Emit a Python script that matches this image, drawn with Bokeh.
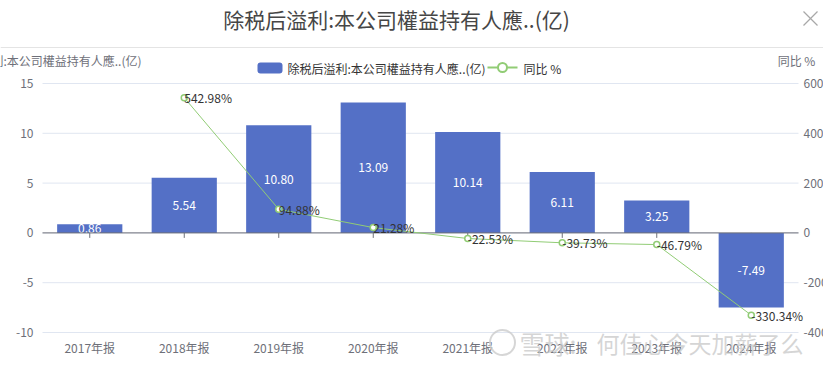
from bokeh.plotting import figure
from bokeh.models import ColumnDataSource, Range1d
from bokeh.core.properties import value
from bokeh.embed import file_html
from bokeh.resources import INLINE

# ---- data ----
categories = ["2017年报", "2018年报", "2019年报", "2020年报", "2021年报", "2022年报", "2023年报", "2024年报"]
profit = [0.86, 5.54, 10.80, 13.09, 10.14, 6.11, 3.25, -7.49]
yoy_cats = ["2018年报", "2019年报", "2020年报", "2021年报", "2022年报", "2023年报", "2024年报"]
yoy = [542.98, 94.88, 21.28, -22.53, -39.73, -46.79, -330.34]
left_ticks = [-10, -5, 0, 5, 10, 15]
right_ticks = [-400, -200, 0, 200, 400, 600]
title_text = "除税后溢利:本公司權益持有人應..(亿)"
series1_name = "除税后溢利:本公司權益持有人應..(亿)"
series2_name = "同比 %"
watermark1 = "雪球:"
watermark2 = "何佳心今天加薪了么"

FONT = value("Noto Sans CJK SC")
BAR = "#5470C6"
LINE = "#91CC75"
AXIS_TXT = "#6E7079"
GRID = "#E0E6F1"

# ---- layout (pixels) ----
W, H = 823, 367
PL, PR, PT, PB = 42, 798, 83, 332          # plot area in canvas pixels
NCAT = len(categories)
L_MIN, L_MAX = left_ticks[0], left_ticks[-1]
R_MIN, R_MAX = right_ticks[0], right_ticks[-1]
xpx = (PR - PL) / NCAT                     # px per category
ypx = (PB - PT) / (L_MAX - L_MIN)          # px per left unit
rpx = (PB - PT) / (R_MAX - R_MIN)          # px per right unit

x_range = Range1d(-PL / xpx, NCAT + (W - PR) / xpx)
y_range = Range1d(L_MIN - (H - PB) / ypx, L_MAX + PT / ypx)
pct_range = Range1d(R_MIN - (H - PB) / rpx, R_MAX + PT / rpx)


def X(px):  # canvas x -> data x
    return (px - PL) / xpx


def Y(py):  # canvas y -> data y (left scale)
    return L_MAX - (py - PT) / ypx


p = figure(width=W, height=H, output_backend="svg", toolbar_location=None,
           x_range=x_range, y_range=y_range, x_axis_type=None, y_axis_type=None,
           min_border=0, min_border_left=0, min_border_right=0,
           min_border_top=0, min_border_bottom=0)
p.extra_y_ranges = {"pct": pct_range}
p.outline_line_color = None
p.background_fill_color = "white"
p.border_fill_color = "white"
p.xgrid.visible = False
p.ygrid.visible = False

# ---- grid lines ----
gsrc = ColumnDataSource(dict(x0=[0] * len(left_ticks), x1=[NCAT] * len(left_ticks), y=left_ticks))
p.segment(x0="x0", x1="x1", y0="y", y1="y", source=gsrc, line_color=GRID, line_width=1)

# ---- left axis labels ----
lsrc_ax = ColumnDataSource(dict(x=[0] * len(left_ticks), y=left_ticks, t=[str(v) for v in left_ticks]))
p.text(x="x", y="y", text="t", source=lsrc_ax, x_offset=-9, text_align="right", text_baseline="middle",
       text_font=FONT, text_font_size="12px", text_color=AXIS_TXT)

# ---- right axis labels ----
rsrc_ax = ColumnDataSource(dict(x=[NCAT] * len(right_ticks), y=right_ticks, t=[str(v) for v in right_ticks]))
p.text(x="x", y="y", text="t", source=rsrc_ax, y_range_name="pct", x_offset=5, text_align="left",
       text_baseline="middle", text_font=FONT, text_font_size="12px", text_color=AXIS_TXT)

# ---- category labels ----
cx = [i + 0.5 for i in range(NCAT)]
csrc = ColumnDataSource(dict(x=cx, y=[L_MIN] * NCAT, t=categories))
p.text(x="x", y="y", text="t", source=csrc, y_offset=15, text_align="center", text_baseline="middle",
       text_font=FONT, text_font_size="12px", text_color=AXIS_TXT)

# ---- ticks on zero line ----
tsrc = ColumnDataSource(dict(x=cx, y0=[0] * NCAT, y1=[-5 / ypx] * NCAT))
p.segment(x0="x", x1="x", y0="y0", y1="y1", source=tsrc, line_color=AXIS_TXT, line_width=1)

# ---- bars ----
bsrc = ColumnDataSource(dict(x=cx, top=profit, ymid=[v / 2 for v in profit],
                             lab=["%.2f" % v for v in profit]))
p.vbar(x="x", top="top", bottom=0, width=0.69, source=bsrc, fill_color=BAR, line_color=None)
p.text(x="x", y="ymid", text="lab", source=bsrc, text_color="white", text_font=FONT,
       text_font_size="12px", text_align="center", text_baseline="middle")

# ---- zero axis line ----
p.segment(x0=[0], x1=[NCAT], y0=[0], y1=[0], line_color=AXIS_TXT, line_width=1)

# ---- line series ----
lx = [categories.index(c) + 0.5 for c in yoy_cats]
lsrc = ColumnDataSource(dict(x=lx, y=yoy, lab=["%.2f%%" % v for v in yoy]))
p.line(x="x", y="y", source=lsrc, y_range_name="pct", line_color=LINE, line_width=1)
p.scatter(x="x", y="y", source=lsrc, y_range_name="pct", size=6, marker="circle",
          fill_color="white", line_color=LINE, line_width=1.5)
p.text(x="x", y="y", text="lab", source=lsrc, y_range_name="pct", text_color="#333333",
       text_font=FONT, text_font_size="12px", text_align="left", text_baseline="middle")


def txt(px, py, s, size="12px", color="#333333", align="left", font=FONT, alpha=1.0):
    p.text(x=[X(px)], y=[Y(py)], text=[s], text_font=font, text_font_size=size, text_color=color,
           text_align=align, text_baseline="middle", text_alpha=alpha)


# ---- title, close icon, separator ----
txt(396, 18, title_text, size="21px", color="#464646", align="center")
p.segment(x0=[X(803), X(803)], x1=[X(817), X(817)], y0=[Y(11), Y(25)], y1=[Y(25), Y(11)],
          line_color="#A8A8A8", line_width=1.2)
p.segment(x0=[X(0)], x1=[X(W)], y0=[Y(47)], y1=[Y(47)], line_color="#E4E4E4", line_width=1)

# ---- axis names ----
txt(PL, 60, series1_name, color=AXIS_TXT, align="center")
txt(796, 60, series2_name, color=AXIS_TXT, align="center")

# ---- legend ----
p.quad(left=[X(257)], right=[X(282)], top=[Y(62)], bottom=[Y(73)], fill_color=BAR, line_color=None,
       border_radius=3)
txt(287, 67.5, series1_name)
p.line(x=[X(487), X(517)], y=[Y(67), Y(67)], line_color=LINE, line_width=2)
p.scatter(x=[X(502)], y=[Y(67)], size=9, marker="circle", fill_color="white", line_color=LINE, line_width=2)
txt(523, 67.5, series2_name)

# ---- watermark ----
p.scatter(x=[X(502)], y=[Y(342)], size=25, marker="circle", fill_alpha=0, line_color="#CCCCCC",
          line_alpha=0.8, line_width=2)
txt(519, 342, watermark1, size="25px", color="#C8C8C8", alpha=0.75)
txt(596, 342, watermark2, size="23px", color="#C8C8C8", alpha=0.75)

open("out.html", "w").write(file_html(p, INLINE))
